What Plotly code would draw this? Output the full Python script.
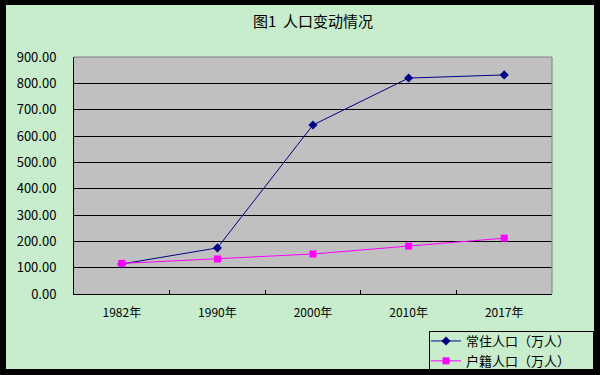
import plotly.graph_objects as go

categories = ["1982年", "1990年", "2000年", "2010年", "2017年"]
resident = [114, 175, 642, 820, 832]
registered = [116, 133, 152, 182, 212]
series_names = ["常住人口（万人）", "户籍人口（万人）"]
title_text = "图1  人口变动情况"

W, H = 600, 375
L, R, T, B = 74, 552, 57, 294
FONT = "Noto Sans CJK SC"
GREEN = "#C7EDCC"


def px(x):
    return (x - L) / (R - L)


def py(y):
    return (B - y) / (B - T)


fig = go.Figure()
fig.add_trace(go.Scatter(
    x=categories, y=resident, name=series_names[0], mode="lines+markers",
    line=dict(color="#000080", width=1),
    marker=dict(symbol="diamond", size=7, color="#000080"),
))
fig.add_trace(go.Scatter(
    x=categories, y=registered, name=series_names[1], mode="lines+markers",
    line=dict(color="#FF00FF", width=1),
    marker=dict(symbol="square", size=7, color="#FF00FF"),
))

shapes = []
# plot area top/right border (gray)
shapes.append(dict(type="line", xref="paper", yref="paper", x0=0, x1=1, y0=1, y1=1,
                   line=dict(color="#808080", width=1), layer="above"))
shapes.append(dict(type="line", xref="paper", yref="paper", x0=1, x1=1, y0=0, y1=1,
                   line=dict(color="#808080", width=1), layer="above"))
# legend box
shapes.append(dict(type="rect", xref="paper", yref="paper",
                   x0=px(429.5), x1=px(593.5), y0=py(372), y1=py(331.5),
                   line=dict(color="black", width=1), fillcolor="rgba(0,0,0,0)", layer="above"))
# black outer border
for (x0, x1, y0, y1) in [(0, 6, 0, H), (594, W, 0, H), (0, W, 0, 5), (0, W, 369, H)]:
    shapes.append(dict(type="rect", xref="paper", yref="paper",
                       x0=px(x0), x1=px(x1), y0=py(y1), y1=py(y0),
                       line=dict(width=0), fillcolor="black", layer="above"))

fig.update_layout(
    width=W, height=H,
    margin=dict(l=L, r=W - R, t=T, b=H - B, pad=0, autoexpand=False),
    paper_bgcolor=GREEN, plot_bgcolor="#C0C0C0",
    font=dict(family=FONT, size=13, color="black"),
    title=dict(text=title_text, x=0.5, xref="paper", xanchor="center",
               y=1 - 22 / H, yanchor="middle", font=dict(family=FONT, size=15, color="black")),
    xaxis=dict(type="category", range=[-0.5, len(categories) - 0.5],
               showline=True, linecolor="black", linewidth=1,
               ticks="inside", ticklen=4, tickcolor="black", tickson="boundaries",
               showgrid=False, zeroline=False, tickfont=dict(size=12),
               ticklabelstandoff=8),
    yaxis=dict(range=[0, 900], dtick=100, tickformat=".2f", showline=True,
               linecolor="black", linewidth=1, showgrid=True, gridcolor="black",
               gridwidth=1, zeroline=False, ticks="", tickfont=dict(size=13),
               ticklabelstandoff=14),
    showlegend=True,
    legend=dict(x=px(426), y=py(326), xanchor="left", yanchor="top",
                bgcolor="rgba(0,0,0,0)", borderwidth=0,
                font=dict(family=FONT, size=13, color="black"),
                tracegroupgap=0, itemwidth=30),
    shapes=shapes,
)

fig.write_html("out.html", config={"displayModeBar": False},
               post_script="document.body.style.margin='0';document.body.style.overflow='hidden';")
